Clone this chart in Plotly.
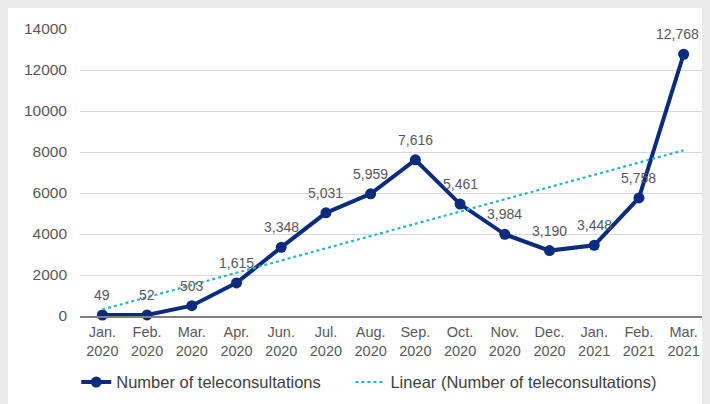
import numpy as np
import plotly.graph_objects as go

months = ["Jan.<br>2020", "Feb.<br>2020", "Mar.<br>2020", "Apr.<br>2020", "Jun.<br>2020",
          "Jul.<br>2020", "Aug.<br>2020", "Sep.<br>2020", "Oct.<br>2020", "Nov.<br>2020",
          "Dec.<br>2020", "Jan.<br>2021", "Feb.<br>2021", "Mar.<br>2021"]
teleconsultations = [49, 52, 503, 1615, 3348, 5031, 5959, 7616, 5461, 3984, 3190, 3448, 5758, 12768]
y_ticks = [0, 2000, 4000, 6000, 8000, 10000, 12000, 14000]

# Linear trend (least squares), as in the spreadsheet trendline
xi = np.arange(1, len(teleconsultations) + 1)
slope, intercept = np.polyfit(xi, teleconsultations, 1)
trend = slope * xi + intercept

W, H = 710, 404
ml, mr, mt, mb = 72, 12, 18, 96
NAVY = "#0a2b7e"
CYAN = "#27b6c6"
FONT = "Liberation Sans, Arial"

fig = go.Figure()
fig.add_trace(go.Scatter(
    x=months, y=teleconsultations, mode="lines+markers",
    name="Number of teleconsultations",
    line=dict(color=NAVY, width=4),
    marker=dict(color=NAVY, size=11),
    cliponaxis=False, legend="legend",
))
fig.add_trace(go.Scatter(
    x=months, y=trend, mode="lines",
    name="Linear (Number of teleconsultations)",
    line=dict(color=CYAN, width=2.2, dash="dot"),
    legend="legend2",
))

n = len(teleconsultations)
for i, (m, v) in enumerate(zip(months, teleconsultations)):
    fig.add_annotation(x=m, y=v, text=f"{v:,}", showarrow=False,
                       yshift=20, yanchor="middle",
                       xshift=-6 if i == n - 1 else 0,
                       font=dict(family=FONT, size=14, color="#595959"))

leg_common = dict(orientation="h", xanchor="left", y=-0.231, yanchor="middle",
                  font=dict(size=16.5, color="#404040"), bgcolor="rgba(0,0,0,0)")
fig.update_layout(
    width=W, height=H,
    margin=dict(l=ml, r=mr, t=mt, b=mb),
    paper_bgcolor="white", plot_bgcolor="white",
    font=dict(family=FONT, size=14.5, color="#595959"),
    showlegend=True,
    legend=dict(x=-0.006, **leg_common),
    legend2=dict(x=0.432, **leg_common),
)
fig.update_xaxes(type="category", range=[-0.5, 13.5], showgrid=False,
                 showline=True, linecolor="#808080", linewidth=1.5,
                 ticks="", ticklabelstandoff=2, tickfont=dict(size=14.5, color="#595959"))
fig.update_yaxes(range=[0, 14000], tickvals=y_ticks, tickformat="d",
                 showgrid=True, gridcolor="#d9d9d9", gridwidth=1,
                 zeroline=False, showline=False, ticks="",
                 ticklabelstandoff=12, tickfont=dict(size=15.5, color="#595959"))

fig.write_html("out.html", post_script="document.body.style.backgroundColor='#ebebeb';")
